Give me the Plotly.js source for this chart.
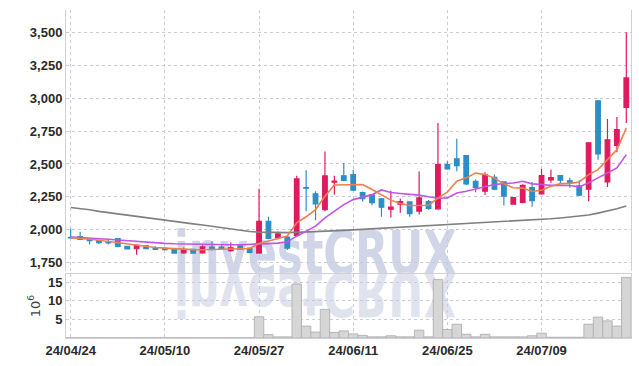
<!DOCTYPE html>
<html><head><meta charset="utf-8">
<script src="https://cdn.plot.ly/plotly-3.0.1.min.js"></script>
<style>
html,body{margin:0;padding:0;background:#fff;}
#wrap{position:relative;width:639px;height:366px;overflow:hidden;}
#plot{position:absolute;left:0;top:0;width:639px;height:366px;z-index:2;}
.wm{position:absolute;left:174px;font-family:'Liberation Sans Narrow','DejaVu Sans Condensed',sans-serif;font-weight:bold;font-size:60px;line-height:60px;color:#d0d5e7;white-space:nowrap;z-index:1;transform-origin:0 50%;}
#wm1{top:223px;transform:scale(0.8,1);}
#wm2{top:264px;transform:scale(0.8,-1);color:#e0e3ee;}
</style></head>
<body><div id="wrap"><div class="wm" id="wm1">investCRUX</div><div class="wm" id="wm2">investCRUX</div><div id="plot"></div></div>
<script>
const dates = ["24/04/24","24/04/25","24/04/26","24/04/29","24/04/30","24/05/02","24/05/03","24/05/07","24/05/08","24/05/09",
"24/05/10","24/05/13","24/05/14","24/05/16","24/05/17","24/05/20","24/05/21","24/05/22","24/05/23","24/05/24",
"24/05/27","24/05/28","24/05/29","24/05/30","24/05/31","24/06/03","24/06/04","24/06/05","24/06/07","24/06/10",
"24/06/11","24/06/12","24/06/13","24/06/14","24/06/17","24/06/18","24/06/19","24/06/20","24/06/21","24/06/24",
"24/06/25","24/06/26","24/06/27","24/06/28","24/07/01","24/07/02","24/07/03","24/07/04","24/07/05","24/07/08",
"24/07/09","24/07/10","24/07/11","24/07/12","24/07/15","24/07/16","24/07/17","24/07/18","24/07/19","24/07/22"];
const openP = [1940,1945,1930,1915,1908,1930,1872,1853,1875,1860,1856,1850,1822,1848,1822,1865,1865,1838,1875,1858,
1820,2063,1938,1942,1955,2320,2272,2152,2362,2410,2419,2282,2265,2234,2155,2193,2210,2139,2213,2158,
2495,2540,2563,2368,2292,2398,2363,2193,2206,2320,2272,2378,2411,2372,2333,2307,2982,2363,2642,2931];
const highP = [2005,1982,1935,1920,1925,1935,1876,1880,1878,1872,1862,1855,1862,1852,1880,1910,1885,1900,1880,1862,
2310,2097,1985,1955,2411,2452,2292,2596,2411,2508,2455,2290,2270,2240,2295,2234,2215,2442,2225,2812,
2520,2693,2565,2381,2436,2420,2368,2248,2345,2363,2464,2455,2413,2395,2375,2665,2987,2843,2858,3505];
const lowP = [1930,1922,1885,1890,1885,1865,1848,1808,1850,1843,1840,1815,1815,1815,1815,1840,1845,1830,1845,1818,
1815,1925,1925,1843,1950,2140,2070,2140,2267,2368,2295,2213,2185,2097,2092,2127,2098,2114,2150,2150,
2455,2444,2340,2284,2264,2300,2183,2190,2200,2173,2265,2356,2355,2318,2255,2216,2533,2325,2589,2813];
const closeP = [1935,1925,1915,1900,1897,1870,1852,1878,1853,1848,1846,1820,1845,1820,1868,1848,1852,1860,1850,1825,
2063,1932,1967,1858,2386,2315,2196,2409,2370,2375,2300,2235,2204,2170,2170,2213,2120,2241,2160,2495,
2462,2487,2348,2322,2416,2307,2254,2244,2337,2221,2411,2396,2376,2353,2262,2662,2576,2685,2762,3157];
const ma5 = [1937,1933,1926,1918,1909,1900,1888,1878,1870,1863,1858,1853,1849,1846,1845,1846,1848,1850,1852,1855,
1893,1911,1930,1950,2051,2097,2152,2254,2340,2340,2338,2343,2305,2266,2224,2198,2183,2183,2185,2240,
2285,2368,2394,2430,2420,2392,2348,2318,2316,2290,2299,2330,2350,2352,2363,2419,2457,2533,2609,2774];
const ma20 = [1942,1939,1935,1930,1925,1920,1914,1908,1902,1897,1894,1891,1889,1887,1886,1885,1884,1884,1884,1885,
1888,1892,1896,1906,1949,1987,2025,2089,2139,2190,2228,2249,2266,2302,2282,2275,2270,2262,2250,2238,
2241,2279,2292,2310,2330,2343,2350,2355,2368,2348,2343,2337,2337,2336,2325,2356,2394,2432,2470,2571];
const ma120 = [2168,2160,2150,2138,2128,2118,2108,2099,2090,2080,2071,2062,2053,2043,2034,2024,2012,2002,1993,1985,
1980,1977,1975,1976,1978,1980,1983,1986,1990,1993,1997,2001,2005,2009,2013,2017,2021,2025,2029,2033,
2037,2041,2045,2049,2055,2059,2062,2064,2066,2070,2076,2082,2088,2094,2100,2110,2125,2140,2158,2180];
const volume = [0.05,0.05,0.05,0.05,0.05,0.05,0.05,0.05,0.05,0.05,0.05,0.05,0.05,0.05,0.05,0.05,0.05,0.05,0.05,0.05,
5.7,0.9,0.3,0.3,14.5,3.2,1.6,7.7,1.5,1.9,1.1,0.7,0.3,0.3,0.6,0.3,0.3,2.1,0.3,15.7,
2.3,3.7,1.0,0.3,1.0,0.3,0.3,0.3,0.3,0.6,1.3,0.2,0.2,0.2,0.2,3.7,5.6,4.6,3.2,16.3];
const priceTicks = [1750,2000,2250,2500,2750,3000,3250,3500];
const volTicks = [5,10,15];
const xTicks = ["24/04/24","24/05/10","24/05/27","24/06/11","24/06/25","24/07/09"];

const up = '#e01a5f', dn = '#2b8fc6';
const tickFont = {family:"'Liberation Sans', Arial, sans-serif", size:13, color:'#2a2a2a', weight:'bold'};
const data = [
 {type:'bar', x:dates, y:volume, xaxis:'x', yaxis:'y2', marker:{color:'#d6d6d6', line:{color:'#b5b5b5', width:1}}, hoverinfo:'skip'},
 {type:'scatter', mode:'lines', x:dates, y:ma120, xaxis:'x', yaxis:'y', line:{color:'#808080', width:1.6}},
 {type:'candlestick', x:dates, open:openP, high:highP, low:lowP, close:closeP, xaxis:'x', yaxis:'y',
  increasing:{line:{color:up, width:1.2}, fillcolor:up}, decreasing:{line:{color:dn, width:1.2}, fillcolor:dn}, whiskerwidth:0},
 {type:'scatter', mode:'lines', x:dates, y:ma20, xaxis:'x', yaxis:'y', line:{color:'#c453e6', width:1.6}},
 {type:'scatter', mode:'lines', x:dates, y:ma5, xaxis:'x', yaxis:'y', line:{color:'#ee7f4e', width:1.6}}
];
const grid = {showgrid:true, gridcolor:'#c9cbdc', griddash:'dot', gridwidth:1};
const layout = {
 width:639, height:366, margin:{l:66, r:8, t:10, b:28},
 paper_bgcolor:'rgba(0,0,0,0)', plot_bgcolor:'rgba(0,0,0,0)',
 showlegend:false, bargap:0,
 xaxis:Object.assign({type:'category', range:[-0.5,59.5], anchor:'y2', tickmode:'array', tickvals:xTicks, ticktext:xTicks,
   tickfont:tickFont, ticks:'', showline:true, linecolor:'#d0d0d8', mirror:true, rangeslider:{visible:false}, fixedrange:true}, grid),
 yaxis:Object.assign({domain:[0.203,1], range:[1680,3675], tickmode:'array', tickvals:priceTicks, tickformat:',d',
   tickfont:tickFont, ticks:'', showline:true, linecolor:'#d0d0d8', mirror:true, zeroline:false}, grid),
 yaxis2:Object.assign({domain:[0,0.195], range:[0,17.2], tickmode:'array', tickvals:volTicks,
   tickfont:tickFont, ticks:'', showline:true, linecolor:'#d0d0d8', mirror:true, zeroline:false,
   title:{text:'10<sup>6</sup>', font:{family:"'DejaVu Sans',sans-serif", size:13, color:'#444'}, standoff:4}}, grid)
};
Plotly.newPlot('plot', data, layout, {staticPlot:true, displayModeBar:false});
</script></body></html>
